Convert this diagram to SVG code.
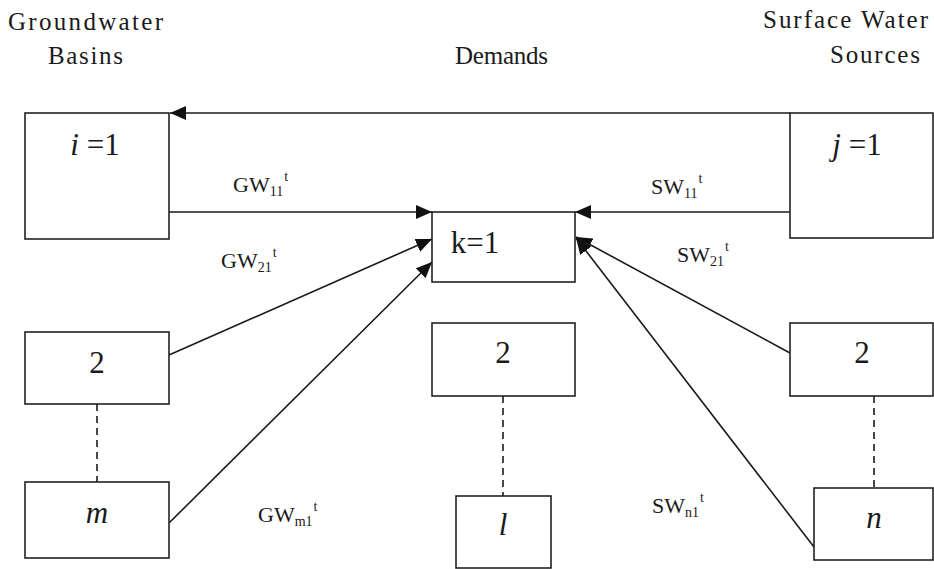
<svg xmlns="http://www.w3.org/2000/svg" width="934" height="569" viewBox="0 0 934 569" font-family="Liberation Serif, serif">
<style>
.box{fill:#fff;stroke:#222;stroke-width:1.6}
.ln{fill:none;stroke:#1a1a1a;stroke-width:1.6}
.dash{fill:none;stroke:#1a1a1a;stroke-width:1.6;stroke-dasharray:7,5}
.hdr{font-size:25px}
.nd{font-size:31px;text-anchor:middle}
.it{font-style:italic}
.lb{font-size:22px}
.sb{font-size:14px}
</style>
<defs>
<marker id="ah" markerUnits="userSpaceOnUse" markerWidth="16" markerHeight="14" viewBox="0 0 16 14" refX="16" refY="7" orient="auto">
<path d="M0,0 L16,7 L0,14 Z" fill="#111"/>
</marker>
</defs>
<g id="headers" fill="#1a1a1a">
<text class="hdr" x="8" y="30" textLength="155">Groundwater</text>
<text class="hdr" x="48" y="64" textLength="75">Basins</text>
<text class="hdr" x="455" y="64" textLength="93">Demands</text>
<text class="hdr" x="763" y="28" textLength="165">Surface Water</text>
<text class="hdr" x="830" y="63" textLength="90">Sources</text>
</g>
<g id="connectors">
<line class="ln" x1="790" y1="113" x2="170" y2="113" marker-end="url(#ah)"/>
<line class="ln" x1="169" y1="212" x2="432" y2="212" marker-end="url(#ah)"/>
<line class="ln" x1="790" y1="212" x2="575" y2="212" marker-end="url(#ah)"/>
<line class="ln" x1="169" y1="355" x2="432" y2="239" marker-end="url(#ah)"/>
<line class="ln" x1="169" y1="523" x2="432" y2="262" marker-end="url(#ah)"/>
<line class="ln" x1="790" y1="353" x2="576" y2="237" marker-end="url(#ah)"/>
<line class="ln" x1="814" y1="547" x2="576" y2="238" marker-end="url(#ah)"/>
<line class="dash" x1="97" y1="404" x2="97" y2="482"/>
<line class="dash" x1="503" y1="396" x2="503" y2="496"/>
<line class="dash" x1="874" y1="396" x2="874" y2="488"/>
</g>
<g id="labels" fill="#1a1a1a">
<text class="lb" x="233" y="192">GW<tspan class="sb" dy="4">11</tspan><tspan class="sb" dy="-15" dx="1">t</tspan></text>
<text class="lb" x="221" y="268">GW<tspan class="sb" dy="4">21</tspan><tspan class="sb" dy="-15" dx="1">t</tspan></text>
<text class="lb" x="258" y="522">GW<tspan class="sb" dy="4">m1</tspan><tspan class="sb" dy="-15" dx="1">t</tspan></text>
<text class="lb" x="651" y="194">SW<tspan class="sb" dy="4">11</tspan><tspan class="sb" dy="-15" dx="1">t</tspan></text>
<text class="lb" x="677" y="262">SW<tspan class="sb" dy="4">21</tspan><tspan class="sb" dy="-15" dx="1">t</tspan></text>
<text class="lb" x="652" y="513">SW<tspan class="sb" dy="4">n1</tspan><tspan class="sb" dy="-15" dx="1">t</tspan></text>
</g>
<g id="gw1" fill="#1a1a1a">
<rect class="box" x="25" y="113" width="144" height="126"/>
<text class="nd" x="95" y="155"><tspan class="it">i</tspan> =1</text>
</g>
<g id="gw2" fill="#1a1a1a">
<rect class="box" x="25" y="332" width="144" height="72"/>
<text class="nd" x="97" y="373">2</text>
</g>
<g id="gwm" fill="#1a1a1a">
<rect class="box" x="25" y="482" width="144" height="76"/>
<text class="nd it" x="97" y="523">m</text>
</g>
<g id="d1" fill="#1a1a1a">
<rect class="box" x="432" y="212" width="143" height="70"/>
<text class="nd" x="475" y="253">k=1</text>
</g>
<g id="d2" fill="#1a1a1a">
<rect class="box" x="432" y="323" width="143" height="73"/>
<text class="nd" x="503" y="363">2</text>
</g>
<g id="dl" fill="#1a1a1a">
<rect class="box" x="456" y="496" width="95" height="72"/>
<text class="nd it" x="503" y="535">l</text>
</g>
<g id="sw1" fill="#1a1a1a">
<rect class="box" x="790" y="113" width="143" height="125"/>
<text class="nd" x="857" y="155"><tspan class="it">j</tspan> =1</text>
</g>
<g id="sw2" fill="#1a1a1a">
<rect class="box" x="790" y="323" width="143" height="73"/>
<text class="nd" x="862" y="363">2</text>
</g>
<g id="swn" fill="#1a1a1a">
<rect class="box" x="814" y="488" width="119" height="72"/>
<text class="nd it" x="874" y="528">n</text>
</g>
</svg>
